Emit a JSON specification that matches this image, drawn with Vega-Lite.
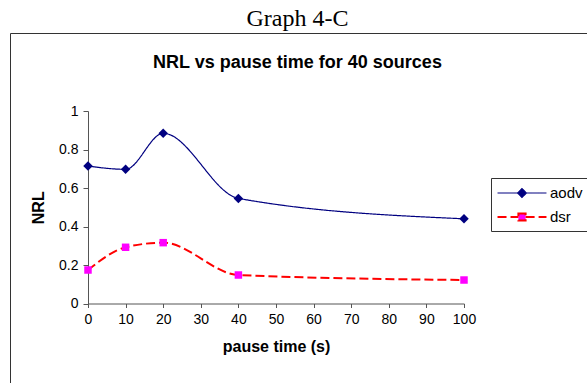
{
  "$schema": "https://vega.github.io/schema/vega-lite/v6.json",
  "width": 607,
  "height": 380,
  "autosize": {"type": "none"},
  "padding": {"left": 10, "top": 33, "right": -30, "bottom": -30},
  "background": "white",
  "title": {
    "text": "Graph 4-C",
    "subtitle": "NRL vs pause time for 40 sources",
    "anchor": "middle",
    "frame": "group",
    "dx": -16,
    "offset": -39,
    "baseline": "top",
    "font": "Liberation Serif",
    "fontSize": 24,
    "fontWeight": "normal",
    "color": "black",
    "subtitleFont": "Liberation Sans",
    "subtitleFontSize": 18,
    "subtitleFontWeight": "bold",
    "subtitleColor": "black",
    "subtitlePadding": 23
  },
  "config": {
    "view": {"stroke": "#333333", "strokeWidth": 1},
    "axis": {
      "grid": false,
      "domainColor": "#555555",
      "tickColor": "#555555",
      "labelFont": "Liberation Sans",
      "labelFontSize": 14,
      "labelColor": "black",
      "titleFont": "Liberation Sans",
      "titleFontSize": 16,
      "titleFontWeight": "bold",
      "titleColor": "black",
      "labelFlush": false,
      "labelOverlap": false
    }
  },
  "data": {
    "values": [
      {"pause": 0, "nrl": 0.714, "series": "aodv"},
      {"pause": 10, "nrl": 0.697, "series": "aodv"},
      {"pause": 20, "nrl": 0.884, "series": "aodv"},
      {"pause": 40, "nrl": 0.546, "series": "aodv"},
      {"pause": 100, "nrl": 0.44, "series": "aodv"},
      {"pause": 0, "nrl": 0.174, "series": "dsr"},
      {"pause": 10, "nrl": 0.292, "series": "dsr"},
      {"pause": 20, "nrl": 0.316, "series": "dsr"},
      {"pause": 40, "nrl": 0.148, "series": "dsr"},
      {"pause": 100, "nrl": 0.122, "series": "dsr"}
    ]
  },
  "encoding": {
    "x": {
      "field": "pause",
      "type": "quantitative",
      "scale": {"domain": [0, 100], "range": [78, 454], "nice": false, "zero": false},
      "axis": {
        "title": "pause time (s)",
        "values": [0, 10, 20, 30, 40, 50, 60, 70, 80, 90, 100],
        "offset": -109.5,
        "tickSize": 4,
        "labelPadding": 5,
        "titlePadding": 12
      }
    },
    "y": {
      "field": "nrl",
      "type": "quantitative",
      "scale": {"domain": [0, 1], "range": [270.5, 78], "nice": false, "zero": false},
      "axis": {
        "title": "NRL",
        "values": [0, 0.2, 0.4, 0.6, 0.8, 1],
        "format": ".1~f",
        "offset": -78,
        "tickSize": 5,
        "labelPadding": 5,
        "titlePadding": 12
      }
    }
  },
  "layer": [
    {
      "mark": {"type": "line", "interpolate": "monotone"},
      "encoding": {
        "stroke": {
          "field": "series",
          "type": "nominal",
          "scale": {"domain": ["aodv", "dsr"], "range": ["#000080", "#FF0000"]},
          "legend": {
            "title": null,
            "orient": "none",
            "legendX": 481,
            "legendY": 145,
            "strokeColor": "#333333",
            "fillColor": "white",
            "padding": 6,
            "labelFont": "Liberation Sans",
            "labelFontSize": 15,
            "labelColor": "black",
            "symbolSize": 256,
            "symbolOffset": 16,
            "labelOffset": 19,
            "rowPadding": 7,
            "encode": {
              "symbols": {
                "update": {
                  "shape": {"signal": "datum.value === 'aodv' ? 'M-3.06,0L-0.55,0M0.55,0L3.06,0M0,-0.55L0.55,0L0,0.55L-0.55,0Z' : 'M-3.06,0L-0.45,0M0.45,0L3.06,0M-0.45,-0.45L0.45,-0.45L0.45,0.45L-0.45,0.45Z'"},
                  "fill": {"signal": "datum.value === 'aodv' ? '#000080' : '#FF00FF'"},
                  "stroke": {"signal": "datum.value === 'aodv' ? '#000080' : '#FF0000'"},
                  "opacity": {"value": 1},
                  "fillOpacity": {"value": 1},
                  "strokeOpacity": {"value": 1},
                  "strokeWidth": {"signal": "datum.value === 'aodv' ? 1.2 : 2"},
                  "strokeDash": {"signal": "datum.value === 'aodv' ? [1, 0] : [7, 4]"}
                }
              }
            }
          }
        },
        "strokeDash": {
          "field": "series",
          "type": "nominal",
          "scale": {"domain": ["aodv", "dsr"], "range": [[1, 0], [9, 4]]},
          "legend": null
        },
        "strokeWidth": {
          "field": "series",
          "type": "nominal",
          "scale": {"domain": ["aodv", "dsr"], "range": [1.2, 2]},
          "legend": null
        }
      }
    },
    {
      "transform": [{"filter": "datum.series === 'aodv'"}],
      "mark": {"type": "point", "filled": true, "opacity": 1, "strokeWidth": 0, "shape": "diamond", "fill": "#000080", "size": 90}
    },
    {
      "transform": [{"filter": "datum.series === 'dsr'"}],
      "mark": {"type": "point", "filled": true, "opacity": 1, "strokeWidth": 0, "shape": "square", "fill": "#FF00FF", "size": 56}
    }
  ]
}
